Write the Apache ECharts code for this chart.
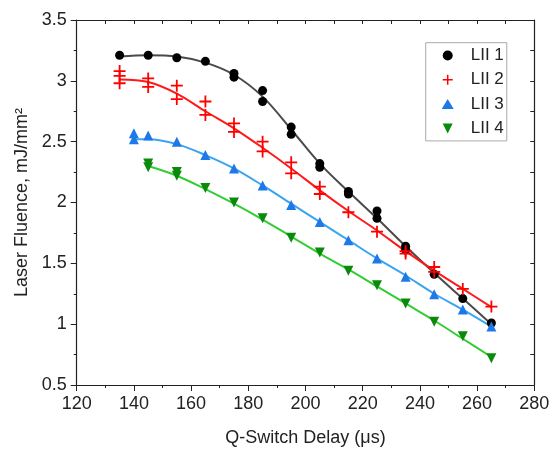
<!DOCTYPE html>
<html>
<head>
<meta charset="utf-8">
<script src="https://cdn.jsdelivr.net/npm/echarts@6/dist/echarts.min.js"></script>
<style>html,body{margin:0;padding:0;background:#fff}#c{width:553px;height:452px}</style>
</head>
<body>
<div id="c"></div>
<script>
// Measured points
const delays1 = [135,145,155,165,175,175,185,185,195,195,205,205,215,215,225,225,235,235,245,255,265];
const fluence1 = [3.21,3.21,3.19,3.16,3.06,3.03,2.92,2.83,2.62,2.56,2.32,2.29,2.09,2.07,1.93,1.87,1.64,1.61,1.41,1.21,1.01];
const delays2 = [135,135,135,145,145,155,155,165,165,175,175,185,185,195,195,205,205,215,225,235,235,245,245,255,265];
const fluence2 = [3.08,3.04,2.98,3.02,2.95,2.96,2.85,2.83,2.72,2.65,2.58,2.50,2.42,2.33,2.24,2.13,2.07,1.92,1.76,1.60,1.58,1.47,1.43,1.29,1.145];
const delays3 = [140,140,145,155,165,175,185,195,205,215,225,235,245,255,265];
const fluence3 = [2.57,2.52,2.55,2.50,2.39,2.28,2.14,1.98,1.84,1.69,1.54,1.39,1.245,1.12,0.98];
const delays4 = [145,145,155,155,165,175,185,195,205,215,225,235,245,255,265];
const fluence4 = [2.32,2.29,2.25,2.22,2.12,2.00,1.87,1.71,1.59,1.44,1.32,1.17,1.02,0.90,0.72];

// Fit curves
const fitX1 = [135,145,155,165,175,185,195,205,215,225,235,245,255,265];
const fitY1 = [3.20,3.21,3.20,3.15,3.05,2.87,2.60,2.32,2.09,1.87,1.64,1.42,1.21,1.00];
const fitX2 = [135,145,155,165,175,185,195,205,215,225,235,245,255,265];
const fitY2 = [3.01,2.99,2.895,2.75,2.61,2.45,2.28,2.10,1.93,1.77,1.60,1.44,1.29,1.14];
const fitX3 = [140,145,155,165,175,185,195,205,215,225,235,245,255,265];
const fitY3 = [2.52,2.52,2.48,2.39,2.28,2.14,1.99,1.84,1.69,1.54,1.40,1.25,1.12,0.98];
const fitX4 = [145,155,165,175,185,195,205,215,225,235,245,255,265];
const fitY4 = [2.30,2.22,2.11,1.99,1.86,1.72,1.58,1.45,1.31,1.17,1.03,0.88,0.73];

const names = ['LII 1','LII 2','LII 3','LII 4'];
const xTicks = {min:120, max:280, interval:20};
const yTicks = {min:0.5, max:3.5, interval:0.5};

const pairs = (xs, ys) => xs.map((x,i)=>[x, ys[i]]);
const plusPath = 'path://M4.25,0H5.75V4.25H10V5.75H5.75V10H4.25V5.75H0V4.25H4.25Z';
const downTri = 'path://M0,0L10,0L5,10Z';
const FONT = 'Liberation Sans, Arial, sans-serif';

const markerColors = ['#000000','#ff0000','#1f78e8','#0a8a0a'];
const lineColors = ['#4a4a4a','#ff1a1a','#38a4f2','#33cc33'];
const legendIcons = ['circle', plusPath, 'triangle', downTri];

function fitSeries(xs, ys, idx){
  return {type:'line', name:'fit'+idx, data:pairs(xs,ys), smooth:0.35, showSymbol:false,
    lineStyle:{color:lineColors[idx], width:2}, z:2, silent:true};
}

const option = {
  animation:false,
  backgroundColor:'#fff',
  grid:{left:76.7, right:18.7, top:20, bottom:64.7, containLabel:false},
  legend:{
    data:names.map((n,i)=>({name:n, icon:legendIcons[i]})), orient:'vertical', left:425.7, top:42.7,
    padding:[4.3,3,4,16], itemGap:7.3, itemWidth:12, itemHeight:10,
    borderColor:'#aaaaaa', borderWidth:1, backgroundColor:'#fff',
    textStyle:{fontFamily:FONT, fontSize:17, color:'#222', lineHeight:14, padding:[0,0,0,12]}
  },
  xAxis:[{
    type:'value', min:xTicks.min, max:xTicks.max, interval:xTicks.interval,
    name:'Q-Switch Delay (μs)', nameLocation:'middle', nameGap:44,
    nameTextStyle:{fontFamily:FONT, fontSize:18, color:'#222'},
    axisLine:{lineStyle:{color:'#222', width:1.2}},
    axisTick:{inside:false, length:6, lineStyle:{color:'#222'}},
    minorTick:{show:true, splitNumber:2, length:3, lineStyle:{color:'#222'}},
    axisLabel:{fontFamily:FONT, fontSize:18, color:'#222', margin:10},
    splitLine:{show:false}
  },{
    type:'value', position:'top', min:xTicks.min, max:xTicks.max, interval:10,
    axisLine:{show:true, onZero:false, lineStyle:{color:'#222', width:1.2}},
    axisTick:{show:true, inside:true, length:4, lineStyle:{color:'#222'}},
    axisLabel:{show:false}, splitLine:{show:false}
  }],
  yAxis:[{
    type:'value', min:yTicks.min, max:yTicks.max, interval:yTicks.interval,
    name:'Laser Fluence, mJ/mm²', nameLocation:'middle', nameGap:46,
    nameTextStyle:{fontFamily:FONT, fontSize:18, color:'#222'},
    axisLine:{show:true, lineStyle:{color:'#222', width:1.2}},
    axisTick:{show:true, inside:false, length:6, lineStyle:{color:'#222'}},
    minorTick:{show:true, splitNumber:2, length:3, lineStyle:{color:'#222'}},
    axisLabel:{fontFamily:FONT, fontSize:18, color:'#222', margin:10},
    splitLine:{show:false}
  },{
    type:'value', position:'right', min:yTicks.min, max:yTicks.max, interval:0.25,
    axisLine:{show:true, onZero:false, lineStyle:{color:'#222', width:1.2}},
    axisTick:{show:true, inside:true, length:4, lineStyle:{color:'#222'}},
    axisLabel:{show:false}, splitLine:{show:false}
  }],
  series:[
    fitSeries(fitX1, fitY1, 0),
    fitSeries(fitX2, fitY2, 1),
    fitSeries(fitX3, fitY3, 2),
    fitSeries(fitX4, fitY4, 3),
    {type:'scatter', name:names[0], data:pairs(delays1,fluence1), symbol:'circle', symbolSize:9,
      itemStyle:{color:markerColors[0], opacity:1}, z:5},
    {type:'scatter', name:names[1], data:pairs(delays2,fluence2), symbol:plusPath, symbolSize:12,
      itemStyle:{color:markerColors[1], opacity:1}, z:5},
    {type:'scatter', name:names[2], data:pairs(delays3,fluence3), symbol:'triangle', symbolSize:10,
      itemStyle:{color:markerColors[2], opacity:1}, z:5},
    {type:'scatter', name:names[3], data:pairs(delays4,fluence4), symbol:downTri, symbolSize:10,
      itemStyle:{color:markerColors[3], opacity:1}, z:5}
  ]
};
const chart = echarts.init(document.getElementById('c'), null, {renderer:'canvas'});
chart.setOption(option);
</script>
</body>
</html>
